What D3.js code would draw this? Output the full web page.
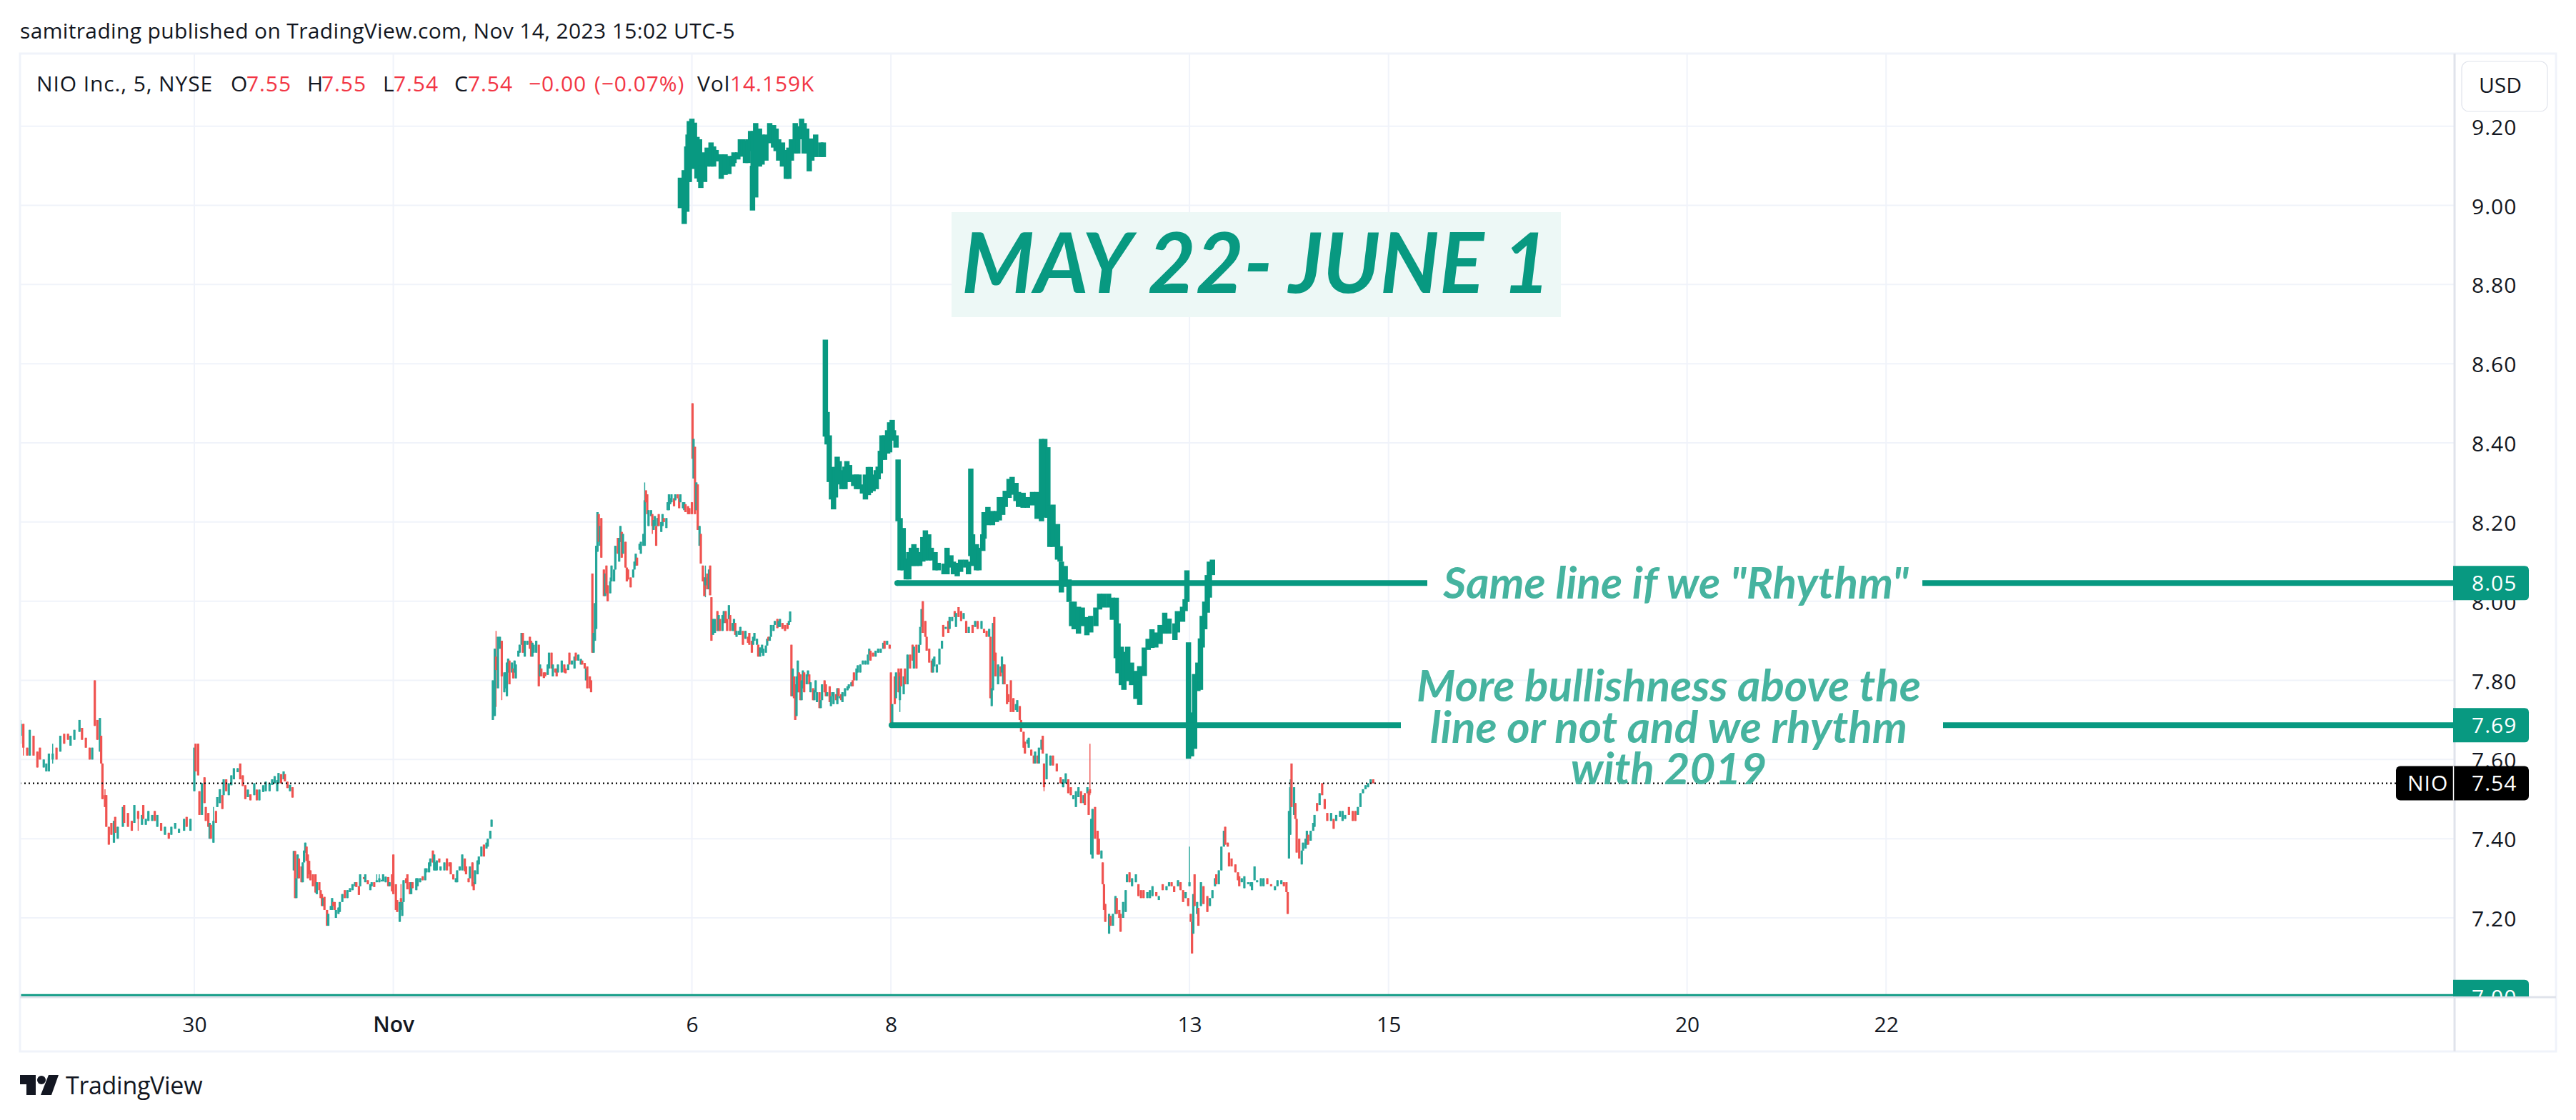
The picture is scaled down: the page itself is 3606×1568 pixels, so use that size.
<!DOCTYPE html>
<html><head><meta charset="utf-8">
<script src="https://cdn.jsdelivr.net/npm/d3@7"></script>
<style>html,body{margin:0;padding:0;background:#fff}svg{display:block}</style>
</head><body><svg id="c" width="3606" height="1568"></svg>
<script>
// ---- axis labels (bar index 0 = Oct 30 open, 78 five-minute bars per day)
const dayBars=[0,156,390,546,780,936,1170,1326];
const dayLabels=["30","Nov","6","8","13","15","20","22"];
const priceTicks=[9.2,9,8.8,8.6,8.4,8.2,8,7.8,7.6,7.4,7.2];
const levels=[8.046,7.687,7.00];
const lastPrice=7.54;
// ---- price candles: [bar offset, open, close, high?, low?]
const sessionA={start:-137,rows:[[1,7.66,7.69,7.70,7.64],[3,7.69,7.63,7.69,7.61],[6,7.63,7.61],[8,7.61,7.675],[11,7.66,7.61],[14,7.62,7.58],[16,7.63,7.60],[19,7.58,7.60],[21,7.57,7.59],[23,7.57,7.615],[26,7.60,7.615,7.64,7.59],[29,7.63,7.60],[32,7.62,7.66],[35,7.665,7.64],[38,7.665,7.65],[40,7.635,7.66],[43,7.65,7.675],[47,7.67,7.70],[49,7.68,7.65],[52,7.655,7.63],[55,7.63,7.60],[57,7.60,7.63],[59,7.80,7.685],[61,7.70,7.65],[63,7.62,7.705],[64,7.66,7.59],[65,7.59,7.50],[67,7.51,7.48,7.525],[68,7.51,7.43],[70,7.43,7.385],[72,7.44,7.41],[74,7.39,7.445],[75,7.455,7.415],[77,7.40,7.43],[81,7.43,7.48],[82,7.485,7.44],[85,7.465,7.43],[88,7.445,7.42],[90,7.44,7.485],[93,7.47,7.45,7.47,7.42],[96,7.435,7.46],[97,7.485,7.45],[99,7.435,7.45],[101,7.445,7.47],[104,7.445,7.46],[106,7.47,7.445],[108,7.43,7.46],[111,7.44,7.42],[114,7.41,7.43],[117,7.415,7.40],[119,7.41,7.43],[122,7.425,7.44],[125,7.415,7.425],[129,7.42,7.45],[131,7.455,7.43],[134,7.42,7.45],[137,7.52,7.63],[138,7.64,7.57],[140,7.64,7.56],[141,7.52,7.46],[143,7.46,7.54],[145,7.555,7.49],[146,7.48,7.445],[148,7.465,7.43],[149,7.40,7.44],[150,7.435,7.40],[152,7.39,7.445,7.48],[154,7.47,7.44],[155,7.48,7.505],[157,7.49,7.525],[159,7.51,7.475],[160,7.51,7.55],[162,7.55,7.52],[164,7.51,7.54],[166,7.535,7.56],[168,7.55,7.578],[171,7.568,7.578],[173,7.59,7.55],[175,7.56,7.533],[177,7.535,7.50],[179,7.505,7.524],[181,7.512,7.497],[184,7.51,7.54],[186,7.524,7.497],[188,7.497,7.524],[191,7.518,7.535],[193,7.52,7.544],[196,7.52,7.54],[198,7.536,7.55],[200,7.54,7.558],[202,7.52,7.548],[203,7.54,7.566],[205,7.563,7.54],[207,7.55,7.57],[208,7.563,7.545],[210,7.544,7.528],[212,7.52,7.536],[214,7.53,7.504]]};
const sessionB={start:78,rows:[[0,7.32,7.369],[1,7.369,7.25],[2,7.25,7.30],[3,7.30,7.36],[4,7.35,7.30],[6,7.33,7.29],[7,7.29,7.34],[8,7.34,7.37],[9,7.365,7.39],[10,7.38,7.344],[11,7.36,7.30],[12,7.344,7.31],[13,7.32,7.295],[15,7.31,7.28],[17,7.31,7.264],[18,7.26,7.29],[20,7.29,7.27],[21,7.27,7.25],[22,7.26,7.23],[23,7.23,7.25],[24,7.253,7.22],[26,7.22,7.18],[27,7.18,7.21],[29,7.22,7.23],[30,7.22,7.25],[31,7.24,7.23],[32,7.24,7.22],[33,7.20,7.22],[35,7.21,7.226],[36,7.215,7.24],[38,7.24,7.26],[40,7.27,7.25],[42,7.25,7.27],[44,7.265,7.275],[46,7.27,7.285],[48,7.28,7.29],[49,7.29,7.278],[51,7.28,7.258],[52,7.28,7.31],[55,7.303,7.298],[56,7.29,7.31],[58,7.295,7.285],[60,7.27,7.285],[61,7.28,7.29],[63,7.29,7.278],[65,7.29,7.295,7.31],[67,7.29,7.30,7.31],[69,7.292,7.296],[70,7.292,7.31],[72,7.29,7.304],[74,7.303,7.28],[75,7.28,7.29],[77,7.31,7.267],[78,7.36,7.26],[80,7.285,7.22],[81,7.245,7.215],[83,7.19,7.24],[84,7.25,7.24,7.285,7.22],[85,7.205,7.24],[86,7.24,7.295],[88,7.30,7.288],[89,7.31,7.272],[91,7.29,7.26],[92,7.26,7.29],[93,7.29,7.275],[96,7.27,7.30],[97,7.28,7.30],[99,7.29,7.30],[101,7.305,7.295],[103,7.295,7.325],[104,7.315,7.325],[106,7.315,7.34],[107,7.33,7.35],[109,7.37,7.34],[110,7.32,7.36],[111,7.32,7.34],[112,7.32,7.345],[114,7.35,7.34],[115,7.32,7.33],[118,7.32,7.34],[120,7.35,7.32],[122,7.34,7.33],[123,7.34,7.31],[125,7.31,7.297],[127,7.29,7.30],[128,7.29,7.32],[130,7.32,7.33],[132,7.32,7.36],[134,7.35,7.318],[135,7.33,7.31],[137,7.30,7.29],[138,7.30,7.33],[140,7.34,7.28],[141,7.29,7.27],[142,7.285,7.32],[144,7.31,7.345],[145,7.335,7.355],[147,7.355,7.38],[149,7.385,7.355],[151,7.375,7.39],[152,7.38,7.40],[154,7.40,7.42],[155,7.43,7.448]]};
const sessionC={start:234,rows:[[0,7.70,7.80],[1.5,7.71,7.88],[2.5,7.86,7.826,7.925,7.733],[4,7.78,7.91],[5.5,7.88,7.91],[7,7.90,7.81,7.90,7.75],[9,7.77,7.82],[10,7.78,7.82],[11,7.76,7.845],[12,7.82,7.855],[13,7.85,7.79],[15,7.82,7.845],[16,7.83,7.805],[17,7.82,7.85],[18,7.805,7.84],[20,7.86,7.875],[21,7.87,7.89],[22.5,7.89,7.92],[23.5,7.92,7.87],[25,7.86,7.90],[27,7.89,7.90],[29,7.91,7.88],[30,7.90,7.86],[31,7.86,7.895],[32,7.87,7.89],[34,7.87,7.90],[36,7.89,7.785],[37,7.81,7.84],[38,7.83,7.81],[40,7.82,7.806],[41,7.82,7.81],[43,7.814,7.84],[44,7.83,7.87],[46,7.87,7.83],[47,7.81,7.84],[49,7.83,7.82],[50,7.83,7.81],[51,7.82,7.84],[54,7.82,7.85],[56,7.84,7.82],[57,7.83,7.818],[59,7.826,7.84],[60,7.87,7.84],[62,7.84,7.85],[64,7.83,7.86],[65,7.87,7.85],[67,7.85,7.865],[69,7.84,7.854],[70,7.85,7.84],[72,7.844,7.83],[73,7.80,7.83],[74,7.835,7.78],[76,7.81,7.78],[77,7.80,7.77],[78,8.07,7.87],[79,7.87,7.92],[80,7.90,7.995],[81,7.93,8.14],[82,8.125,8.225],[83,8.22,8.15],[84,8.14,8.19],[85,8.21,8.11],[87,8.08,8.013],[88,8.013,8.07],[89,8.09,8.02],[90,8.04,8.00],[92,8.02,8.05,8.06],[93,8.05,8.09],[95,8.05,8.08],[96,8.08,8.14],[98,8.16,8.12],[99,8.10,8.16],[100,8.15,8.19],[101,8.175,8.11],[102,8.12,8.17],[104,8.15,8.085],[105,8.085,8.05],[106,8.08,8.055],[108,8.06,8.035],[110,8.06,8.08],[111,8.08,8.10],[112,8.09,8.12],[113,8.11,8.09],[115,8.13,8.145],[116,8.12,8.15],[118,8.14,8.17],[119,8.14,8.255,8.30],[120,8.28,8.25],[121,8.27,8.22],[122,8.19,8.23],[124,8.215,8.23],[125,8.22,8.19,8.22,8.17],[126,8.18,8.205],[127,8.19,8.215],[128,8.19,8.14],[129,8.19,8.21],[130,8.22,8.19],[132,8.175,8.20],[133,8.19,8.22],[134,8.21,8.20],[136,8.185,8.21],[137,8.23,8.25],[138,8.23,8.27],[139,8.245,8.26],[140,8.25,8.27],[142,8.26,8.24],[143,8.255,8.27],[145,8.27,8.26],[146,8.26,8.235],[147,8.25,8.27],[149,8.235,8.25],[150,8.23,8.25],[151,8.245,8.225],[153,8.24,8.22],[154,8.235,8.22],[156,8.25,8.22],[156.5,8.50,8.36],[157.3,8.31,8.41],[158.4,8.39,8.22],[159.5,8.23,8.30],[160.6,8.295,8.18],[162,8.14,8.19],[163,8.17,8.095],[164.6,8.09,8.05],[165.7,8.06,8.013],[166.6,8.04,8.06,8.09,8.01],[168,8.07,8.03],[169.4,8.03,8.08],[170.3,8.09,8.015],[171.3,8.01,7.90],[172.6,7.915,7.955],[174,7.92,7.955],[176,7.975,7.925],[177,7.925,7.965],[178,7.955,7.925],[180,7.925,7.965],[181,7.945,7.975],[182.5,7.975,7.945],[183.6,7.955,7.925],[185,7.955,7.99],[186,7.965,7.925],[188,7.925,7.945],[189,7.925,7.955],[190,7.945,7.915],[191,7.91,7.925],[193,7.915,7.925],[194,7.915,7.935],[196,7.925,7.89],[198,7.905,7.925],[200,7.91,7.895],[201,7.92,7.89],[203,7.90,7.87],[204,7.89,7.91],[205,7.90,7.92],[207,7.89,7.905],[208,7.89,7.86],[209.5,7.86,7.883],[211,7.87,7.89],[212,7.862,7.88],[214,7.87,7.888],[215,7.888,7.905],[216,7.91,7.90],[217,7.90,7.91],[218,7.91,7.94],[220,7.925,7.94],[221,7.94,7.95],[223,7.955,7.932],[224,7.935,7.95],[225,7.935,7.955],[227,7.945,7.93],[229,7.94,7.925],[231,7.945,7.93],[232,7.94,7.95],[233,7.947,7.974]]};
const sessionD={start:468,rows:[[0,7.89,7.76],[1,7.76,7.83],[2,7.81,7.755],[3,7.79,7.70],[4,7.71,7.81],[5,7.77,7.85],[6,7.82,7.77],[7,7.815,7.75],[8,7.75,7.80],[9,7.78,7.825],[10,7.82,7.77],[12,7.79,7.815],[13,7.81,7.825],[14,7.815,7.79],[15,7.77,7.795],[17,7.78,7.75],[18,7.75,7.775],[19,7.77,7.80],[20,7.745,7.77],[22,7.77,7.73],[23,7.73,7.75],[24,7.75,7.79],[26,7.80,7.77],[27,7.79,7.76],[28,7.76,7.77],[30,7.785,7.745],[31,7.735,7.76],[32,7.76,7.77],[33,7.74,7.77],[35,7.765,7.75],[36,7.74,7.78],[37,7.78,7.76],[38,7.755,7.76],[39,7.765,7.75],[40,7.745,7.77],[42,7.76,7.78],[44,7.775,7.785],[45,7.78,7.79],[47,7.785,7.795],[48,7.80,7.785],[49,7.82,7.80],[51,7.80,7.83],[52,7.82,7.838],[54,7.82,7.84],[56,7.84,7.85],[58,7.84,7.85],[60,7.84,7.865],[61,7.865,7.88],[62,7.875,7.85],[64,7.87,7.86],[66,7.86,7.875],[68,7.87,7.88],[70,7.87,7.88],[72,7.88,7.895],[73,7.90,7.88],[75,7.89,7.90],[77,7.89,7.88]]};
const sessionE={start:546,rows:[[0,7.82,7.68],[1,7.68,7.74],[3,7.81,7.74],[4,7.755,7.82],[6,7.83,7.77],[7,7.75,7.81,7.82,7.72],[8,7.83,7.785],[10,7.765,7.81],[11,7.83,7.79],[13,7.79,7.865],[15,7.865,7.83],[17,7.89,7.85],[18,7.83,7.885],[20,7.89,7.83],[22,7.87,7.89],[23,7.89,7.935],[24,7.935,7.98],[25,8.00,7.92],[27,7.95,7.91],[28,7.91,7.875],[30,7.88,7.845],[32,7.85,7.82],[33,7.82,7.855],[34,7.835,7.86],[36,7.82,7.84],[38,7.84,7.88],[40,7.88,7.90],[41,7.94,7.91],[43,7.93,7.935],[45,7.95,7.92],[46,7.93,7.96],[48,7.95,7.96],[50,7.975,7.96],[51,7.935,7.97],[53,7.985,7.96],[55,7.975,7.95],[57,7.955,7.97],[59,7.95,7.92],[61,7.92,7.935],[64,7.94,7.92],[66,7.935,7.95],[68,7.95,7.93],[71,7.93,7.95],[73,7.93,7.92],[75,7.925,7.91],[77,7.91,7.93],[78,7.91,7.755],[79,7.735,7.78],[80,7.775,7.945],[81,7.96,7.85],[82,7.87,7.81],[84,7.79,7.84],[86,7.835,7.81],[87,7.82,7.86],[88,7.79,7.84],[89,7.84,7.79],[91,7.79,7.74],[92,7.765,7.745],[94,7.80,7.72],[96,7.755,7.72],[98,7.725,7.74],[99,7.72,7.75],[101,7.735,7.70],[102,7.70,7.67],[104,7.67,7.63],[105,7.645,7.615],[107,7.64,7.65],[108,7.63,7.655],[110,7.625,7.61],[112,7.61,7.59],[113,7.59,7.62],[115,7.61,7.59],[116,7.59,7.63],[118,7.625,7.65],[119,7.66,7.615],[120,7.59,7.53,7.59,7.52],[122,7.55,7.615],[125,7.585,7.61],[127,7.61,7.585],[130,7.59,7.57],[133,7.555,7.54],[135,7.53,7.55],[137,7.54,7.565],[139,7.55,7.515],[141,7.53,7.51],[143,7.50,7.51],[145,7.48,7.52],[147,7.505,7.53],[149,7.52,7.49],[151,7.49,7.51],[152,7.515,7.485],[154,7.515,7.53],[155,7.52,7.46],[156,7.525,7.515,7.64,7.51],[157,7.36,7.45],[158,7.35,7.475],[160,7.48,7.40],[162,7.42,7.36],[163,7.40,7.36],[165,7.35,7.37],[166,7.34,7.285],[167,7.285,7.22],[168,7.235,7.19],[171,7.16,7.21],[172,7.205,7.18],[174,7.18,7.21],[176,7.21,7.255],[177,7.25,7.21],[179,7.22,7.20],[180,7.21,7.165],[182,7.20,7.24],[184,7.215,7.27],[185,7.29,7.31],[187,7.315,7.29],[189,7.28,7.30],[192,7.29,7.31],[194,7.285,7.255],[196,7.27,7.25],[198,7.27,7.25],[201,7.25,7.265],[203,7.25,7.27],[205,7.255,7.28],[208,7.265,7.255],[210,7.245,7.255],[213,7.285,7.27],[216,7.27,7.28],[218,7.28,7.29],[220,7.29,7.28],[222,7.28,7.265],[225,7.28,7.295],[227,7.29,7.27],[229,7.27,7.24],[231,7.25,7.265],[233,7.25,7.23],[234,7.28,7.29,7.38,7.28],[235,7.21,7.19],[236,7.19,7.11],[237,7.16,7.26],[238,7.31,7.23],[240,7.21,7.24],[241,7.225,7.18],[243,7.23,7.29],[245,7.28,7.235],[248,7.255,7.215],[250,7.23,7.25],[252,7.25,7.27],[254,7.28,7.30],[255,7.31,7.285],[257,7.285,7.32],[259,7.32,7.38],[261,7.38,7.42],[262,7.43,7.385],[264,7.39,7.38],[265,7.365,7.33],[267,7.35,7.33],[270,7.335,7.315],[272,7.315,7.295],[273,7.305,7.28],[275,7.29,7.30],[277,7.275,7.305],[280,7.285,7.29],[282,7.28,7.29],[283,7.27,7.29],[285,7.295,7.33],[287,7.29,7.295],[290,7.28,7.30],[292,7.28,7.30],[295,7.30,7.285],[298,7.285,7.28],[301,7.27,7.28],[303,7.28,7.295],[306,7.285,7.295],[308,7.29,7.28],[310,7.29,7.265],[311,7.265,7.21]]};
const sessionF={start:858,rows:[[0,7.35,7.47],[1,7.41,7.53,7.55],[2,7.59,7.48],[4,7.46,7.53],[5,7.49,7.45],[6,7.45,7.365],[8,7.40,7.35],[10,7.335,7.37],[11,7.37,7.39],[13,7.375,7.40],[14,7.385,7.42],[15,7.41,7.385],[17,7.395,7.42],[19,7.42,7.44],[20,7.43,7.46],[22,7.49,7.47],[24,7.485,7.515],[26,7.54,7.51],[28,7.50,7.475],[30,7.465,7.445],[33,7.445,7.465],[35,7.45,7.425],[37,7.445,7.46],[40,7.455,7.47],[42,7.445,7.47],[44,7.45,7.46],[47,7.48,7.46],[50,7.47,7.445],[52,7.47,7.445],[54,7.46,7.48],[56,7.48,7.515],[58,7.515,7.525],[60,7.525,7.535],[62,7.53,7.54],[64,7.54,7.55],[66,7.55,7.54]]};
const sessions=[sessionA,sessionB,sessionC,sessionD,sessionE,sessionF];
// ---- May 22 - June 1 bars pattern: [bar, low, high]
const patternA=[[381,8.993,9.07],[384,8.953,9.089],[386,8.984,9.149],[387,9.059,9.179],[388,9.059,9.213],[390,9.092,9.219],[392,9.104,9.209],[394,9.068,9.173],[396,9.059,9.167],[397,9.044,9.101],[400,9.059,9.134],[402,9.098,9.146],[405,9.098,9.159],[407,9.098,9.149],[409,9.111,9.14],[413,9.067,9.129],[416,9.077,9.129],[419,9.079,9.125],[422,9.098,9.125],[423,9.107,9.134],[426,9.116,9.134],[428,9.123,9.167],[430,9.137,9.167],[432,9.107,9.164],[434,9.107,9.167],[436,9.137,9.188],[437.5,8.987,9.10],[438,9.05,9.188],[440,9.02,9.208],[443,9.098,9.194],[445,9.103,9.179],[448,9.113,9.179],[451,9.157,9.208],[454,9.146,9.203],[456,9.137,9.194],[458,9.113,9.167],[461,9.098,9.159],[464,9.067,9.14],[466,9.067,9.146],[468,9.113,9.167],[471,9.131,9.208],[473,9.131,9.20],[476,9.167,9.219],[478,9.131,9.208],[480,9.131,9.194],[482,9.086,9.149],[484,9.113,9.169],[487,9.122,9.179],[491,9.122,9.159],[493,9.122,9.159]];
const patternB=[[494.6,8.416,8.661],[496,8.396,8.478],[497.7,8.301,8.419],[499.4,8.257,8.339],[501,8.232,8.339],[502.5,8.262,8.339],[503.9,8.301,8.365],[505.5,8.295,8.354],[507.6,8.283,8.331],[510,8.283,8.34],[511.5,8.301,8.354],[513.6,8.301,8.344],[516.8,8.291,8.32],[519,8.283,8.32],[521,8.283,8.32],[523.7,8.272,8.295],[526,8.257,8.32],[528.3,8.268,8.339],[529.8,8.274,8.339],[532,8.278,8.32],[534.5,8.283,8.331],[536,8.308,8.34],[537.7,8.323,8.38],[539,8.357,8.419],[541,8.357,8.419],[543.4,8.373,8.432],[545,8.376,8.452],[547,8.406,8.458],[548,8.406,8.432],[550,8.388,8.419]];
const patternC=[[551.6,8.202,8.358],[553.2,8.078,8.21],[555.6,8.078,8.185],[558,8.055,8.108],[560,8.055,8.124],[562,8.089,8.135],[564,8.089,8.144],[566,8.089,8.135],[568.6,8.089,8.124],[571,8.10,8.162],[573,8.103,8.179],[575.6,8.103,8.169],[577.6,8.103,8.135],[580.6,8.078,8.124],[583,8.078,8.097],[587.6,8.068,8.095],[590,8.068,8.135],[593,8.085,8.116],[595,8.068,8.10],[598,8.063,8.097],[600.6,8.074,8.105],[604.6,8.085,8.105],[606.8,8.068,8.10],[608.6,8.114,8.335],[610,8.089,8.169],[613,8.078,8.144],[615,8.078,8.135],[618,8.127,8.169],[619,8.158,8.225],[622,8.192,8.238],[625.6,8.192,8.228],[628.6,8.20,8.228],[631,8.204,8.263],[633.6,8.218,8.263],[635.6,8.238,8.279],[638.6,8.261,8.309],[641,8.269,8.314],[644,8.253,8.299],[646,8.238,8.276],[649.6,8.236,8.274],[653,8.236,8.263],[657,8.242,8.276],[660.6,8.208,8.276],[664,8.202,8.41],[666.6,8.211,8.41],[669,8.211,8.389],[670.6,8.137,8.242],[673,8.137,8.244],[676.6,8.105,8.195],[678.6,8.10,8.139],[679.6,8.022,8.10],[682.6,8.036,8.089],[685.6,7.998,8.055],[687.6,7.937,7.998],[689.6,7.929,7.999],[693,7.918,7.986],[696,7.937,7.984],[699.6,7.914,7.96],[702.6,7.921,7.963],[706.6,7.937,7.984],[709.6,7.979,8.019],[712.6,7.984,8.019],[716.6,7.984,8.019],[719.6,7.953,8.009],[722.6,7.856,8.009],[724,7.818,7.944],[726.6,7.788,7.885],[728.6,7.776,7.872],[731.6,7.798,7.885],[734.6,7.788,7.845],[738,7.753,7.824],[741,7.738,7.836],[744.6,7.811,7.883],[747.6,7.877,7.905],[750.6,7.882,7.929],[753.6,7.883,7.921],[757,7.892,7.94],[760.6,7.918,7.971],[764,7.918,7.956],[768.6,7.902,7.944],[770.6,7.921,7.975],[774.6,7.948,7.986],[776.6,7.975,8.005],[778,7.998,8.078]];
const patternD=[[779.2,7.602,7.896],[781.6,7.608,7.719],[784,7.627,7.816],[786.6,7.773,7.845],[788.6,7.776,7.906],[790,7.883,7.963],[792,7.929,7.999],[794,7.971,8.066],[795.6,8.009,8.10],[798,8.066,8.105]];
const patterns=[patternA,patternB,patternC,patternD];

const INK="#131722",UP="#26a69a",DOWN="#ef5350",TEAL="#089981",SOFT="#46b39f",GRID="#f0f3fa",AXIS="#e0e3eb",FONT="'Open Sans',sans-serif";
const svg=d3.select("#c");
const x=d3.scaleLinear().domain([0,936]).range([272,272+936*1.786]);
const y=d3.scaleLinear().domain([7.2,9.2]).range([1285,176.7]);
const L=28,R=3436,RR=3578,T=75,B=1395,BB=1472;
svg.append("defs").append("clipPath").attr("id","pane").append("rect").attr("x",L).attr("y",T).attr("width",R-L).attr("height",B-T);
svg.append("clipPath").attr("id","full").append("rect").attr("x",L).attr("y",T).attr("width",RR-L).attr("height",B-T);

// grid
const grid=svg.append("g").attr("stroke",GRID).attr("stroke-width",2);
grid.selectAll(".h").data(priceTicks).join("line").attr("x1",L).attr("x2",R).attr("y1",d=>y(d)).attr("y2",d=>y(d));
grid.selectAll(".v").data(dayBars).join("line").attr("x1",d=>x(d)).attr("x2",d=>x(d)).attr("y1",T).attr("y2",B);

// candles
const chart=svg.append("g").attr("clip-path","url(#pane)");
const rows=sessions.flatMap(s=>s.rows.map(r=>({b:s.start+r[0],o:r[1],c:r[2],h:r[3]??Math.max(r[1],r[2]),l:r[4]??Math.min(r[1],r[2])})));
const col=d=>d.c<d.o?DOWN:UP;
chart.append("g").selectAll("line").data(rows).join("line").attr("x1",d=>x(d.b)).attr("x2",d=>x(d.b)).attr("y1",d=>y(d.h)).attr("y2",d=>y(d.l)).attr("stroke",col).attr("stroke-width",1.4);
chart.append("g").selectAll("rect").data(rows).join("rect").attr("x",d=>x(d.b)-1.6).attr("width",3.2).attr("y",d=>Math.min(y(d.o),y(d.c))).attr("height",d=>Math.max(1.5,Math.abs(y(d.o)-y(d.c)))).attr("fill",col);

// last price dotted line
chart.append("line").attr("x1",L).attr("x2",3354).attr("y1",y(lastPrice)).attr("y2",y(lastPrice)).attr("stroke","#000").attr("stroke-width",2.2).attr("stroke-dasharray","2 4");

// pattern
chart.append("g").selectAll("line").data(patterns.flat()).join("line").attr("x1",d=>x(d[0])).attr("x2",d=>x(d[0])).attr("y1",d=>y(d[2])).attr("y2",d=>y(d[1])).attr("stroke",TEAL).attr("stroke-width",7.5);

// horizontal levels
const segs=[[levels[0],1256,1998],[levels[0],2691,R],[levels[1],1248,1961],[levels[1],2720,R],[levels[2],L,R]];
chart.append("g").selectAll("line").data(segs).join("line").attr("x1",d=>d[1]).attr("x2",d=>d[2]).attr("y1",d=>y(d[0])).attr("y2",d=>y(d[0])).attr("stroke",TEAL).attr("stroke-width",8);
chart.append("g").selectAll("circle").data([segs[0],segs[2]]).join("circle").attr("cx",d=>d[1]).attr("cy",d=>y(d[0])).attr("r",4).attr("fill",TEAL);

// annotation title
svg.append("rect").attr("x",1332).attr("y",297).attr("width",853).attr("height",147).attr("fill","#edf8f6");
svg.append("text").attr("x",1758).attr("y",368).attr("dy","0.36em").attr("text-anchor","middle").attr("font-family","Lato").attr("font-style","italic").attr("font-weight",700).attr("font-size",116).attr("fill",TEAL).text("MAY 22- JUNE 1");
const note=(t,cx,cy)=>svg.append("text").attr("x",cx).attr("y",cy).attr("dy","0.36em").attr("text-anchor","middle").attr("font-family","Lato").attr("font-style","italic").attr("font-weight",700).attr("font-size",62).attr("fill",SOFT).text(t);
note('Same line if we "Rhythm"',2346,816);
note("More bullishness above the",2336,960);
note("line or not and we rhythm",2336,1018);
note("with 2019",2336,1076);

// axes
const axR=d3.axisRight(y).tickValues(priceTicks).tickFormat(d3.format(".2f")).tickSize(0).tickPadding(0);
const gy=svg.append("g").attr("transform","translate(3460,2)").call(axR);
gy.select(".domain").remove();
gy.selectAll("text").attr("font-family",FONT).attr("font-size",30).attr("letter-spacing",1).attr("fill",INK);
const axB=d3.axisBottom(x).tickValues(dayBars).tickFormat((d,i)=>dayLabels[i]).tickSize(0).tickPadding(0);
const gx=svg.append("g").attr("transform","translate(0,1424)").call(axB);
gx.select(".domain").remove();
gx.selectAll("text").attr("font-family",FONT).attr("font-size",30).attr("fill",INK).attr("font-weight",(d,i)=>dayLabels[i]==="Nov"?600:400);

// frame
const frame=svg.append("g");
frame.append("rect").attr("x",L).attr("y",T).attr("width",RR-L).attr("height",BB-T).attr("fill","none").attr("stroke",GRID).attr("stroke-width",3);
frame.append("line").attr("x1",R).attr("x2",R).attr("y1",T).attr("y2",BB).attr("stroke",AXIS).attr("stroke-width",3);
frame.append("line").attr("x1",L).attr("x2",RR).attr("y1",B+1).attr("y2",B+1).attr("stroke",AXIS).attr("stroke-width",3);

// price labels
const tag=svg.append("g").attr("clip-path","url(#full)");
const tagPath=(x0,x1,cy,h)=>{const r=6,a=cy-h/2,b=cy+h/2;return `M${x0},${a}H${x1-r}Q${x1},${a} ${x1},${a+r}V${b-r}Q${x1},${b} ${x1-r},${b}H${x0}Z`;};
tag.selectAll(".lv").data(levels).join("path").attr("d",d=>tagPath(R-2,3540,y(d),48)).attr("fill",TEAL);
tag.selectAll(".lt").data(levels).join("text").attr("x",3460).attr("y",d=>y(d)).attr("dy","0.36em").attr("font-family",FONT).attr("font-size",30).attr("letter-spacing",1).attr("fill","#fff").text(d=>d.toFixed(2));
const ly=y(lastPrice);
tag.append("rect").attr("x",3354).attr("y",ly-24).attr("width",186).attr("height",48).attr("rx",6).attr("fill","#000");
tag.append("line").attr("x1",3434.5).attr("x2",3434.5).attr("y1",ly-24).attr("y2",ly+24).attr("stroke","#fff").attr("stroke-width",1.5);
tag.append("text").attr("x",3370).attr("y",ly).attr("dy","0.36em").attr("font-family",FONT).attr("font-size",30).attr("letter-spacing",1).attr("fill","#fff").text("NIO");
tag.append("text").attr("x",3460).attr("y",ly).attr("dy","0.36em").attr("font-family",FONT).attr("font-size",30).attr("letter-spacing",1).attr("fill","#fff").text(lastPrice.toFixed(2));

// USD
svg.append("rect").attr("x",3446).attr("y",86).attr("width",120).attr("height",70).attr("rx",10).attr("fill","#fff").attr("stroke",AXIS).attr("stroke-width",1.2);
svg.append("text").attr("x",3500).attr("y",119).attr("dy","0.36em").attr("text-anchor","middle").attr("font-family",FONT).attr("font-size",30).attr("fill",INK).text("USD");

// header + legend
svg.append("text").attr("x",28).attr("y",43).attr("dy","0.36em").attr("font-family",FONT).attr("font-size",30).attr("letter-spacing",0.35).attr("fill",INK).text("samitrading published on TradingView.com, Nov 14, 2023 15:02 UTC-5");
const legendTexts=[["NIO Inc., 5, NYSE",51,INK],["O",323,INK],["7.55",345,"#f23645"],["H",430,INK],["7.55",450,"#f23645"],["L",536,INK],["7.54",551,"#f23645"],["C",636,INK],["7.54",655,"#f23645"],["\u22120.00",740,"#f23645"],["(\u22120.07%)",832,"#f23645"],["Vol",976,INK],["14.159K",1022,"#f23645"]];
svg.append("g").selectAll("text").data(legendTexts).join("text").attr("x",d=>d[1]).attr("y",117).attr("dy","0.36em").attr("font-family",FONT).attr("font-size",30).attr("letter-spacing",0.9).attr("fill",d=>d[2]).text(d=>d[0]);

// TradingView mark
const lg=svg.append("g").attr("fill",INK);
lg.append("path").attr("d","M28,1505H50V1533H37V1518H28Z");
lg.append("circle").attr("cx",58).attr("cy",1512).attr("r",6);
lg.append("path").attr("d","M68,1505H82L72,1533H57Z");
lg.append("text").attr("x",92).attr("y",1520).attr("dy","0.36em").attr("font-family",FONT).attr("font-size",34).attr("letter-spacing",-0.3).attr("font-weight",500).text("TradingView");
</script></body></html>
